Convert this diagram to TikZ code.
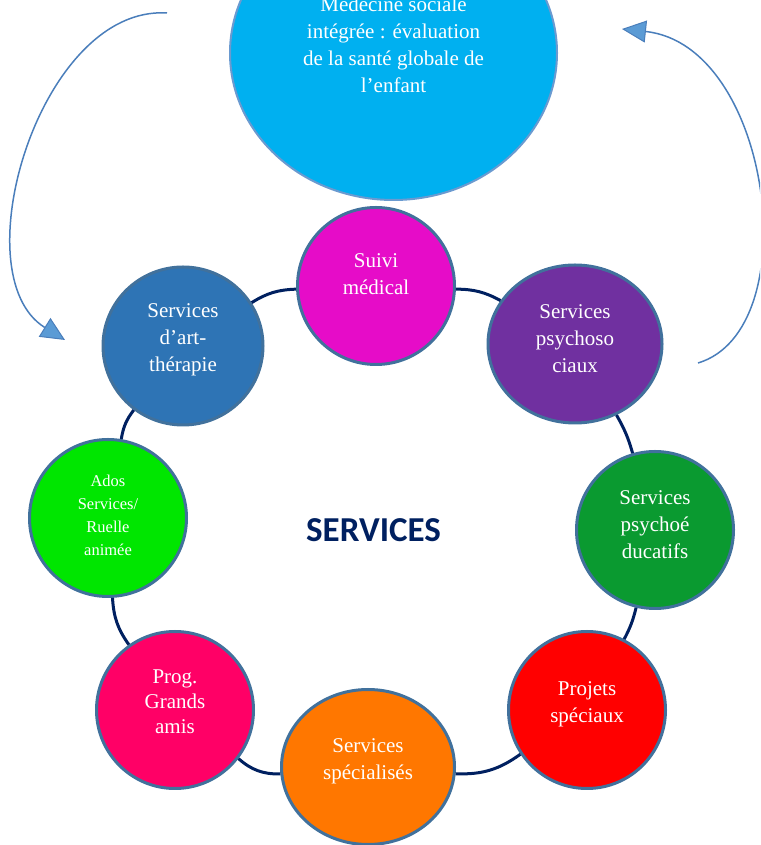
\documentclass[tikz,border=0pt]{standalone}
\usepackage{fontspec}
\setmainfont{Liberation Serif}
\newfontfamily\headfont{Carlito}
\usetikzlibrary{shapes.geometric,arrows.meta}
\definecolor{medblue}{HTML}{00B0F0}
\definecolor{suivicol}{HTML}{E60CC8}
\definecolor{psysocol}{HTML}{7030A0}
\definecolor{psyedcol}{HTML}{0A9A30}
\definecolor{projcol}{HTML}{FF0000}
\definecolor{speccol}{HTML}{FF7700}
\definecolor{progcol}{HTML}{FF0066}
\definecolor{adoscol}{HTML}{00E600}
\definecolor{artcol}{HTML}{2E74B5}
\definecolor{rim}{HTML}{41719C}
\definecolor{rimlight}{HTML}{6A9AD0}
\definecolor{navy}{HTML}{002060}
\definecolor{arrowline}{HTML}{4A7EBB}
\definecolor{arrowfill}{HTML}{5B9BD5}
\begin{document}
\begin{tikzpicture}[x=1pt, y=1pt]
    \tikzstyle{service}=[ellipse, draw=rim, line width=3pt, text=white, align=center, inner sep=0pt, text depth=16pt, minimum width=157pt, minimum height=157pt, font=\fontsize{21}{27}\selectfont]
    \tikzstyle{ringline}=[draw=navy, line width=3pt]
    \tikzstyle{swoop}=[draw=arrowline, line width=1.5pt, -{Triangle[length=24pt, width=22pt, fill=arrowfill, line width=1pt]}]

    \clip (0,0) rectangle (760,845);

    \node[service, fill=medblue, draw=rimlight, line width=2pt, text depth=17pt, minimum width=327pt, minimum height=294pt] (med) at (393.5,792) {Médecine sociale\\ intégrée : évaluation\\ de la santé globale de\\ l’enfant};

    \node[service, fill=suivicol, text depth=24pt] (suivi) at (376,559) {Suivi\\ médical};
    \node[service, fill=psysocol, text depth=10pt, minimum width=174pt, minimum height=158pt] (psyso) at (575,501) {Services\\ psychoso\\ ciaux};
    \node[service, fill=psyedcol, text depth=10pt] (psyed) at (655,315) {Services\\ psychoé\\ ducatifs};
    \node[service, fill=projcol] (proj) at (587,135) {Projets\\ spéciaux};
    \node[service, fill=speccol, minimum width=173pt, minimum height=155pt] (spec) at (368,78) {Services\\ spécialisés};
    \node[service, fill=progcol, font=\fontsize{21}{25}\selectfont] (prog) at (175,135) {Prog.\\ Grands\\ amis};
    \node[service, fill=adoscol, text depth=4.5pt, font=\fontsize{16.5}{23}\selectfont] (ados) at (108,327) {Ados\\ Services/\\ Ruelle\\ animée};
    \node[service, fill=artcol, minimum width=160pt, minimum height=158pt] (art) at (183,499) {Services\\ d’art-\\ thérapie};

    \node[text=navy, font=\headfont\bfseries\fontsize{35}{40}\selectfont] (title) at (373.5,315) {SERVICES};

    \draw[ringline] (suivi) to[bend left=14] (psyso);
    \draw[ringline] (psyso) to[bend left=7] (psyed);
    \draw[ringline] (psyed) to[bend left=7] (proj);
    \draw[ringline] (proj) to[bend left=19] (spec);
    \draw[ringline] (spec) to[bend left=21] (prog);
    \draw[ringline] (prog) to[bend left=16] (ados);
    \draw[ringline] (ados) to[bend left=14] (art);
    \draw[ringline] (art) to[bend left=15] (suivi);

    \coordinate (lstart) at (167,832);
    \coordinate (lend) at (65,505);
    \coordinate (rstart) at (698,482);
    \coordinate (rend) at (622,816);
    \draw[swoop] (lstart) .. controls (40,840) and (-40,570) .. (lend);
    \draw[swoop] (rstart) .. controls (808,515) and (772,800) .. (rend);
\end{tikzpicture}
\end{document}
